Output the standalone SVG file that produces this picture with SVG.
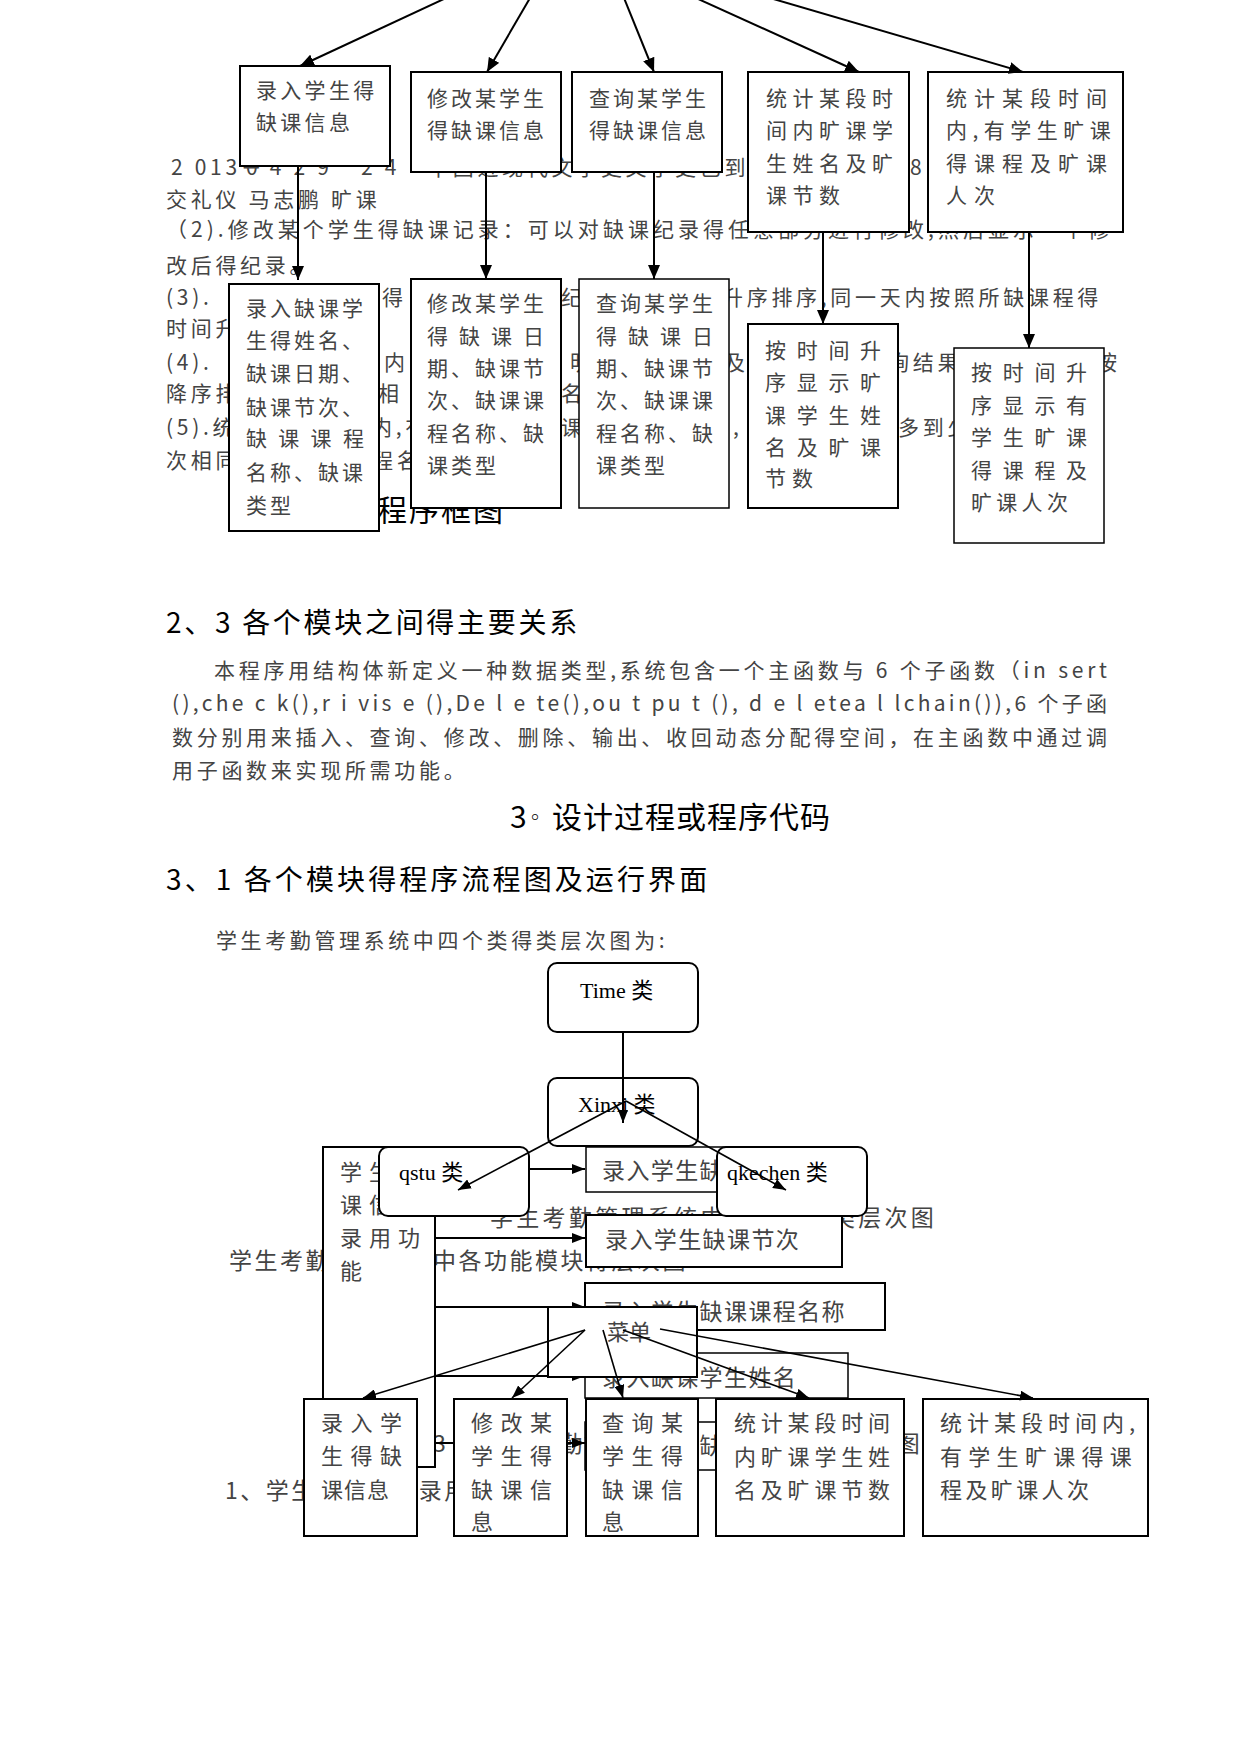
<svg xmlns="http://www.w3.org/2000/svg" width="1241" height="1755" viewBox="0 0 1241 1755">
<style>
text{font-family:"Noto Sans CJK SC","Noto Sans",sans-serif;}
.b{font-size:21px;fill:#444;letter-spacing:3.7px}
.t{font-size:21px;fill:#444}
.h{font-size:28px;fill:#000}
.m{font-size:22px;fill:#444}
.g{font-size:23px;fill:#444}
.c{font-family:"Liberation Serif","Noto Sans CJK SC",serif;font-size:22px;fill:#000}
.box{fill:#fff;stroke:#000;stroke-width:2}
.thin{fill:#fff;stroke:#000;stroke-width:1.5}
.rb{fill:#fff;stroke:#000;stroke-width:2}
.ln{stroke:#000;stroke-width:2;fill:none}
.ls{stroke:#000;stroke-width:1.6;fill:none}
</style>
<defs>
<marker id="ab" viewBox="0 0 14 12" refX="14" refY="6" markerWidth="14" markerHeight="12" markerUnits="userSpaceOnUse" orient="auto"><path d="M0,0 L14,6 L0,12 z" fill="#000"/></marker>
<marker id="as" viewBox="0 0 13 10" refX="13" refY="5" markerWidth="13" markerHeight="10" markerUnits="userSpaceOnUse" orient="auto"><path d="M0,0 L13,5 L0,10 z" fill="#000"/></marker>
</defs>
<rect width="1241" height="1755" fill="#fff"/>

<!-- top body text -->
<g id="body-top" class="b">
<text y="175"><tspan x="171">2 013－</tspan><tspan x="246">0 4 2 9</tspan><tspan x="361">2 4</tspan><tspan x="428">中国近现代文学史文学史已到</tspan><tspan x="910">8</tspan></text>
<text x="166" y="207">交礼仪 马志鹏 旷课</text>
<text x="166" y="237" textLength="943" lengthAdjust="spacing" style="letter-spacing:0">（2).修改某个学生得缺课记录：可以对缺课纪录得任意部分进行修改,然后显示一个修</text>
<text x="166" y="273">改后得纪录。</text>
<text y="305"><tspan x="166">(3).</tspan><tspan x="382">得</tspan><tspan x="561">纪</tspan><tspan x="722">升序排序,同一天内按照所缺课程得</tspan></text>
<text x="166" y="336">时间升</text>
<text y="370"><tspan x="166">(4).</tspan><tspan x="384">内</tspan><tspan x="570">明</tspan><tspan x="724">及</tspan><tspan x="888">询结果</tspan><tspan x="1096">按</tspan></text>
<text y="401"><tspan x="166">降序排</tspan><tspan x="378">相</tspan><tspan x="561">名</tspan></text>
<text y="435"><tspan x="166">(5).统</tspan><tspan x="371">内,有</tspan><tspan x="561">课</tspan><tspan x="733">,</tspan><tspan x="898">多到少</tspan></text>
<text y="468"><tspan x="166">次相同</tspan><tspan x="372">程名</tspan></text>
</g>
<text class="h" x="377" y="521" style="font-size:30px;letter-spacing:2px">程序框图</text>

<!-- top diagram nodes -->
<g id="n-lr1"><rect class="box" x="240" y="66" width="150" height="100"/><text class="t" x="256" y="98" style="letter-spacing:3.3px">录入学生得</text><text class="t" x="256" y="130" style="letter-spacing:3.3px">缺课信息</text></g>
<g id="n-xg1"><rect class="box" x="411" y="72" width="150" height="100"/><text class="t" x="427" y="106" style="letter-spacing:3px">修改某学生</text><text class="t" x="427" y="138" style="letter-spacing:3px">得缺课信息</text></g>
<g id="n-cx1"><rect class="box" x="572" y="72" width="150" height="100"/><text class="t" x="589" y="106" style="letter-spacing:3px">查询某学生</text><text class="t" x="589" y="138" style="letter-spacing:3px">得缺课信息</text></g>
<g id="n-tj1"><rect class="box" x="748" y="72" width="161" height="160"/><text class="t" x="766" y="106" style="letter-spacing:5.5px">统计某段时</text><text class="t" x="766" y="138" style="letter-spacing:5.5px">间内旷课学</text><text class="t" x="766" y="171" style="letter-spacing:5.5px">生姓名及旷</text><text class="t" x="766" y="203" style="letter-spacing:5.5px">课节数</text></g>
<g id="n-tj2"><rect class="box" x="928" y="72" width="195" height="160"/><text class="t" x="946" y="106" style="letter-spacing:7px">统计某段时间</text><text class="t" x="946" y="138" style="letter-spacing:5.5px">内,有学生旷课</text><text class="t" x="946" y="171" style="letter-spacing:7px">得课程及旷课</text><text class="t" x="946" y="203" style="letter-spacing:7px">人次</text></g>
<g id="n-lr2"><rect class="box" x="229" y="284" width="150" height="247"/>
<text class="t" x="246" y="316" style="letter-spacing:3px">录入缺课学</text><text class="t" x="246" y="348" style="letter-spacing:3px">生得姓名、</text><text class="t" x="246" y="381" style="letter-spacing:3px">缺课日期、</text><text class="t" x="246" y="415" style="letter-spacing:3px">缺课节次、</text><text class="t" x="246" y="446" style="letter-spacing:11.3px">缺课课程</text><text class="t" x="246" y="480" style="letter-spacing:3px">名称、缺课</text><text class="t" x="246" y="513" style="letter-spacing:3px">类型</text></g>
<g id="n-xg2"><rect class="box" x="411" y="279" width="150" height="229"/>
<text class="t" x="427" y="311" style="letter-spacing:3px">修改某学生</text><text class="t" x="427" y="344" style="letter-spacing:11px">得缺课日</text><text class="t" x="427" y="376" style="letter-spacing:3px">期、缺课节</text><text class="t" x="427" y="408" style="letter-spacing:3px">次、缺课课</text><text class="t" x="427" y="441" style="letter-spacing:3px">程名称、缺</text><text class="t" x="427" y="473" style="letter-spacing:3px">课类型</text></g>
<g id="n-cx2"><rect class="thin" x="579" y="279" width="150" height="229"/>
<text class="t" x="596" y="311" style="letter-spacing:3px">查询某学生</text><text class="t" x="596" y="344" style="letter-spacing:11px">得缺课日</text><text class="t" x="596" y="376" style="letter-spacing:3px">期、缺课节</text><text class="t" x="596" y="408" style="letter-spacing:3px">次、缺课课</text><text class="t" x="596" y="441" style="letter-spacing:3px">程名称、缺</text><text class="t" x="596" y="473" style="letter-spacing:3px">课类型</text></g>
<g id="n-px1"><rect class="box" x="748" y="324" width="150" height="184"/>
<text class="t" x="765" y="358" style="letter-spacing:10.7px">按时间升</text><text class="t" x="765" y="390" style="letter-spacing:10.7px">序显示旷</text><text class="t" x="765" y="423" style="letter-spacing:10.7px">课学生姓</text><text class="t" x="765" y="455" style="letter-spacing:10.7px">名及旷课</text><text class="t" x="765" y="486" style="letter-spacing:6px">节数</text></g>
<g id="n-px2"><rect class="thin" x="954" y="348" width="150" height="195"/>
<text class="t" x="971" y="380" style="letter-spacing:10.7px">按时间升</text><text class="t" x="971" y="413" style="letter-spacing:10.7px">序显示有</text><text class="t" x="971" y="445" style="letter-spacing:10.7px">学生旷课</text><text class="t" x="971" y="478" style="letter-spacing:10.7px">得课程及</text><text class="t" x="971" y="510" style="letter-spacing:4.3px">旷课人次</text></g>

<g id="top-connectors" class="ln">
<line x1="446" y1="-2" x2="300" y2="66" marker-end="url(#ab)"/>
<line x1="530" y1="-2" x2="487" y2="72" marker-end="url(#ab)"/>
<line x1="624" y1="-2" x2="654" y2="72" marker-end="url(#ab)"/>
<line x1="696" y1="-2" x2="859" y2="72" marker-end="url(#ab)"/>
<line x1="770" y1="-2" x2="1023" y2="72" marker-end="url(#ab)"/>
<line x1="298" y1="166" x2="298" y2="280" marker-end="url(#ab)"/>
<line x1="486" y1="172" x2="486" y2="279" marker-end="url(#ab)"/>
<line x1="654" y1="172" x2="654" y2="279" marker-end="url(#ab)"/>
<line x1="823" y1="232" x2="823" y2="324" marker-end="url(#ab)"/>
<line x1="1029" y1="232" x2="1029" y2="348" marker-end="url(#ab)"/>
</g>

<!-- section text -->
<g id="section-text">
<text class="h" x="166" y="633" style="letter-spacing:2.7px">2、3 各个模块之间得主要关系</text>
<text class="t" x="214" y="678" textLength="893" lengthAdjust="spacing">本程序用结构体新定义一种数据类型,系统包含一个主函数与 6 个子函数（in sert</text>
<text class="t" x="172" y="711" textLength="935" lengthAdjust="spacing">(),che c k(),r i vis e (),De l e te(),ou t pu t (), d e l etea l lchain()),6 个子函</text>
<text class="t" x="172" y="745" textLength="935" lengthAdjust="spacing">数分别用来插入、查询、修改、删除、输出、收回动态分配得空间，在主函数中通过调</text>
<text class="b" x="172" y="778">用子函数来实现所需功能。</text>
<text class="h" y="828" style="font-size:30px;letter-spacing:1px"><tspan x="510">3</tspan><tspan x="525" dy="-3" style="font-size:20px;letter-spacing:0">◦</tspan><tspan x="552" dy="3">设计过程或程序代码</tspan></text>
<text class="h" x="166" y="890" style="letter-spacing:3.1px">3、1 各个模块得程序流程图及运行界面</text>
<text class="b" x="216" y="948" style="letter-spacing:3.6px">学生考勤管理系统中四个类得类层次图为:</text>
</g>

<!-- background captions -->
<g id="bg-captions" class="g">
<text x="490" y="1226" style="letter-spacing:3.3px">学生考勤管理系统中四个类得类层次图</text>
<text x="229" y="1269" style="letter-spacing:2.5px">学生考勤管理系统中各功能模块得层次图</text>
<text x="225" y="1499" style="letter-spacing:2.5px">1、学生缺课信息录用功能</text>
<text y="1452"><tspan x="433">3</tspan><tspan x="487" style="letter-spacing:1.1px">学生考勤管理系统中各功能模块得层次图</tspan></text>
</g>

<!-- background module diagram -->
<g id="bg-func"><rect class="box" x="323" y="1147" width="112" height="320"/>
<text class="m" x="340" y="1180" style="letter-spacing:7px">学生缺</text><text class="m" x="340" y="1213" style="letter-spacing:7px">课信息</text><text class="m" x="340" y="1246" style="letter-spacing:7px">录用功</text><text class="m" x="340" y="1279">能</text></g>
<g id="bg-rq"><rect class="thin" x="586" y="1147" width="240" height="45"/><text class="g" x="602" y="1179" style="letter-spacing:1.4px">录入学生缺课日期</text></g>
<g id="bg-jc"><rect class="box" x="586" y="1215" width="256" height="52"/><text class="g" x="605" y="1248" style="letter-spacing:1.4px">录入学生缺课节次</text></g>
<g id="bg-kc"><rect class="box" x="585" y="1283" width="300" height="47"/><text class="g" x="602" y="1320" style="letter-spacing:1.4px">录入学生缺课课程名称</text></g>
<g id="bg-xm"><rect class="thin" x="585" y="1353" width="263" height="45"/><text class="g" x="602" y="1386" style="letter-spacing:1.4px">录入缺课学生姓名</text></g>
<g id="bg-lx"><rect class="thin" x="585" y="1422" width="235" height="48"/><text class="g" x="602" y="1454" style="letter-spacing:1.4px">录入学生缺课类型</text></g>
<g id="bg-connectors" class="ln">
<line x1="435" y1="1169" x2="585" y2="1169" marker-end="url(#as)"/>
<line x1="435" y1="1238" x2="585" y2="1238" marker-end="url(#as)"/>
<line x1="435" y1="1307" x2="585" y2="1307" marker-end="url(#as)"/>
<line x1="435" y1="1376" x2="585" y2="1376" marker-end="url(#as)"/>
<line x1="435" y1="1443" x2="585" y2="1443" marker-end="url(#as)"/>
</g>

<!-- class diagram nodes -->
<g id="n-time"><rect class="rb" x="548" y="963" width="150" height="69" rx="9"/><text class="c" x="580" y="998">Time 类</text></g>
<g id="n-xinxi"><rect class="rb" x="548" y="1078" width="150" height="68" rx="9"/><text class="c" x="578" y="1112">Xinxi 类</text></g>
<g id="n-qstu"><rect class="rb" x="379" y="1147" width="150" height="69" rx="9"/><text class="c" x="399" y="1180">qstu 类</text></g>
<g id="n-qkechen"><rect class="rb" x="717" y="1147" width="150" height="69" rx="9"/><text class="c" x="727" y="1180">qkechen 类</text></g>
<g id="n-menu"><rect class="box" x="548" y="1307" width="149" height="70"/><text class="m" x="607" y="1340">菜单</text></g>
<g id="n-b1"><rect class="box" x="304" y="1399" width="113" height="137"/><text class="m" x="321" y="1431" style="letter-spacing:7.5px">录入学</text><text class="m" x="321" y="1464" style="letter-spacing:7.5px">生得缺</text><text class="m" x="321" y="1498" style="letter-spacing:1px">课信息</text></g>
<g id="n-b2"><rect class="box" x="454" y="1399" width="113" height="137"/><text class="m" x="471" y="1431" style="letter-spacing:7.5px">修改某</text><text class="m" x="471" y="1464" style="letter-spacing:7.5px">学生得</text><text class="m" x="471" y="1498" style="letter-spacing:7.5px">缺课信</text><text class="m" x="471" y="1530">息</text></g>
<g id="n-b3"><rect class="box" x="586" y="1399" width="112" height="137"/><text class="m" x="602" y="1431" style="letter-spacing:7.5px">查询某</text><text class="m" x="602" y="1464" style="letter-spacing:7.5px">学生得</text><text class="m" x="602" y="1498" style="letter-spacing:7.5px">缺课信</text><text class="m" x="602" y="1530">息</text></g>
<g id="n-b4"><rect class="box" x="716" y="1399" width="188" height="137"/><text class="m" x="734" y="1431" style="letter-spacing:4.8px">统计某段时间</text><text class="m" x="734" y="1465" style="letter-spacing:4.8px">内旷课学生姓</text><text class="m" x="734" y="1498" style="letter-spacing:4.8px">名及旷课节数</text></g>
<g id="n-b5"><rect class="box" x="923" y="1399" width="225" height="137"/><text class="m" x="940" y="1431" style="letter-spacing:5px">统计某段时间内,</text><text class="m" x="940" y="1465" style="letter-spacing:6.3px">有学生旷课得课</text><text class="m" x="940" y="1498" style="letter-spacing:3.4px">程及旷课人次</text></g>

<g id="class-connectors" class="ls">
<line x1="623" y1="1032" x2="623" y2="1123" stroke-width="2" marker-end="url(#as)"/>
<line x1="626" y1="1101" x2="458" y2="1190" marker-end="url(#as)"/>
<line x1="626" y1="1101" x2="786" y2="1190" marker-end="url(#as)"/>
<line x1="585" y1="1330" x2="363" y2="1398" marker-end="url(#as)"/>
<line x1="585" y1="1330" x2="512" y2="1398" marker-end="url(#as)"/>
<line x1="603" y1="1330" x2="623" y2="1398" marker-end="url(#as)"/>
<line x1="623" y1="1330" x2="809" y2="1398" marker-end="url(#as)"/>
<line x1="660" y1="1329" x2="1033" y2="1398" marker-end="url(#as)"/>
</g>
</svg>
